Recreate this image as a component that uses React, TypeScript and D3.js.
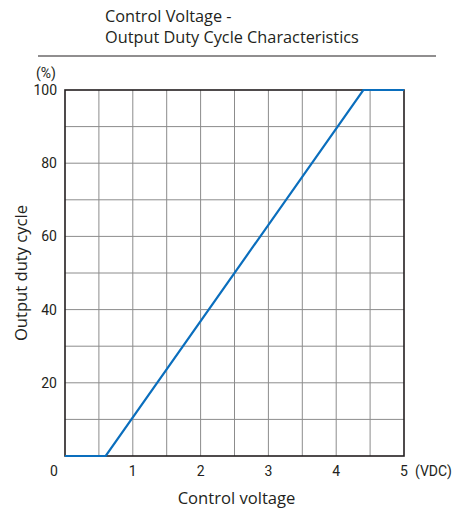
import { useEffect, useRef } from "react";
import * as d3 from "d3";

const W = 458;
const H = 513;
const margin = { left: 65, right: 54, top: 90, bottom: 57 };

// control voltage (VDC) vs output duty cycle (%)
const voltage = [0, 0.6, 4.4, 5];
const duty = [0, 0, 100, 100];
const xTicks = [1, 2, 3, 4, 5];
const yTicks = [20, 40, 60, 80, 100];
const titleLines = ["Control Voltage -", "Output Duty Cycle Characteristics"];

const FONT = "'Open Sans', 'Liberation Sans', sans-serif";
const TICK_FONT = "Roboto, 'Liberation Sans', sans-serif";
const INK = "#231f20";

const App = () => {
  const ref = useRef<SVGSVGElement>(null);

  useEffect(() => {
    const svg = d3.select(ref.current);
    svg.selectAll("*").remove();
    const iw = W - margin.left - margin.right;
    const ih = H - margin.top - margin.bottom;

    const x = d3.scaleLinear().domain([0, 5]).range([margin.left, margin.left + iw]);
    const y = d3.scaleLinear().domain([0, 100]).range([margin.top + ih, margin.top]);

    // title
    svg
      .append("g")
      .selectAll("text")
      .data(titleLines)
      .join("text")
      .attr("x", 105)
      .attr("y", (_d, i) => 22 + i * 21)
      .attr("font-family", FONT)
      .attr("font-size", 16.3)
      .attr("fill", INK)
      .text((d) => d);

    svg
      .append("line")
      .attr("x1", 38)
      .attr("x2", 436)
      .attr("y1", 56)
      .attr("y2", 56)
      .attr("stroke", INK)
      .attr("stroke-width", 1.2);

    // grid
    const grid = svg.append("g").attr("stroke", "#8c8c8c").attr("stroke-width", 1);
    grid
      .selectAll("line.v")
      .data(d3.range(1, 10).map((i) => i * 0.5))
      .join("line")
      .attr("class", "v")
      .attr("x1", (d) => x(d))
      .attr("x2", (d) => x(d))
      .attr("y1", y(0))
      .attr("y2", y(100));
    grid
      .selectAll("line.h")
      .data(d3.range(1, 10).map((i) => i * 10))
      .join("line")
      .attr("class", "h")
      .attr("x1", x(0))
      .attr("x2", x(5))
      .attr("y1", (d) => y(d))
      .attr("y2", (d) => y(d));

    // frame
    svg
      .append("rect")
      .attr("x", x(0))
      .attr("y", y(100))
      .attr("width", x(5) - x(0))
      .attr("height", y(0) - y(100))
      .attr("fill", "none")
      .attr("stroke", INK)
      .attr("stroke-width", 1.6);

    // data line
    const pts = voltage.map((v, i) => [v, duty[i]] as [number, number]);
    svg
      .append("path")
      .datum(pts)
      .attr("fill", "none")
      .attr("stroke", "#0a6ebd")
      .attr("stroke-width", 2.2)
      .attr(
        "d",
        d3
          .line<[number, number]>()
          .x((d) => x(d[0]))
          .y((d) => y(d[1]))
      );

    // x tick labels
    const txt = svg
      .append("g")
      .attr("font-family", TICK_FONT)
      .attr("font-size", 14)
      .attr("fill", INK);
    txt
      .selectAll("text.x")
      .data(xTicks)
      .join("text")
      .attr("class", "x")
      .attr("x", (d) => x(d))
      .attr("y", 476)
      .attr("text-anchor", "middle")
      .text((d) => d);
    txt
      .append("text")
      .attr("x", x(0) - 11)
      .attr("y", 476)
      .attr("text-anchor", "middle")
      .text("0");
    txt
      .append("text")
      .attr("x", x(5) + 11)
      .attr("y", 476)
      .text("(VDC)");

    // y tick labels
    txt
      .selectAll("text.y")
      .data(yTicks)
      .join("text")
      .attr("class", "y")
      .attr("x", x(0) - 8)
      .attr("y", (d) => y(d) + 5)
      .attr("text-anchor", "end")
      .text((d) => d);
    txt
      .append("text")
      .attr("x", x(0) - 9)
      .attr("y", 78)
      .attr("text-anchor", "end")
      .text("(%)");

    // axis titles
    svg
      .append("text")
      .attr("x", (x(0) + x(5)) / 2 + 2)
      .attr("y", 504)
      .attr("text-anchor", "middle")
      .attr("font-family", FONT)
      .attr("font-size", 16.6)
      .attr("fill", INK)
      .text("Control voltage");
    svg
      .append("text")
      .attr("transform", `translate(27, ${(y(0) + y(100)) / 2}) rotate(-90)`)
      .attr("text-anchor", "middle")
      .attr("font-family", FONT)
      .attr("font-size", 16.6)
      .attr("fill", INK)
      .text("Output duty cycle");
  }, []);

  return (
    <svg
      ref={ref}
      width={W}
      height={H}
      style={{ position: "absolute", left: 0, top: 0, background: "#fff" }}
    />
  );
};

export default App;
